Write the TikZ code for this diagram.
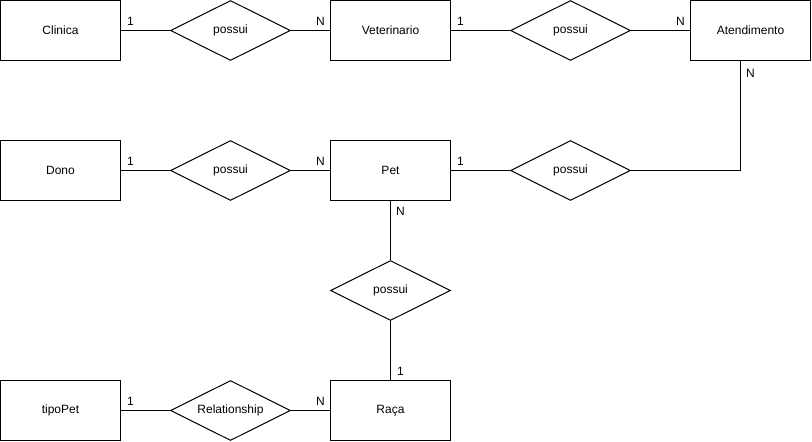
\documentclass[tikz,border=0pt]{standalone}
\usepackage{fontspec}
\setmainfont{Liberation Sans}
\usetikzlibrary{shapes.geometric}
\begin{document}
\begin{tikzpicture}[x=1pt,y=-1pt,
  every node/.style={font=\fontsize{12}{14}\selectfont},
  entity/.style={draw,line width=1pt,minimum width=120pt,minimum height=60pt,inner sep=0pt},
  rel/.style={draw,line width=1pt,diamond,aspect=2,minimum width=120pt,minimum height=60pt,inner sep=0pt},
  link/.style={line width=1pt},
  card/.style={anchor=base west,inner sep=0pt}]
\useasboundingbox (0,0) rectangle (812,442);
% entities
\node[entity] (clinica) at (60.5,30.5) {Clinica};
\node[entity] (vet) at (390.5,30.5) {Veterinario};
\node[entity] (aten) at (750.5,30.5) {Atendimento};
\node[entity] (dono) at (60.5,170.5) {Dono};
\node[entity] (pet) at (390.5,170.5) {Pet};
\node[entity] (tipo) at (60.5,410.5) {tipoPet};
\node[entity] (raca) at (390.5,410.5) {Raça};
% relationships
\node[rel] (r1) at (230.5,30.5) {possui};
\node[rel] (r2) at (570.5,30.5) {possui};
\node[rel] (r3) at (230.5,170.5) {possui};
\node[rel] (r4) at (570.5,170.5) {possui};
\node[rel] (r5) at (390.5,290.5) {possui};
\node[rel] (r6) at (230.5,410.5) {Relationship};
% connectors
\draw[link] (clinica.east) -- (r1.west);
\draw[link] (r1.east) -- (vet.west);
\draw[link] (vet.east) -- (r2.west);
\draw[link] (r2.east) -- (aten.west);
\draw[link] (dono.east) -- (r3.west);
\draw[link] (r3.east) -- (pet.west);
\draw[link] (pet.east) -- (r4.west);
\draw[link] (r4.east) -| ([xshift=-10pt]aten.south);
\draw[link] (pet.south) -- (r5.north);
\draw[link] (r5.south) -- (raca.north);
\draw[link] (tipo.east) -- (r6.west);
\draw[link] (r6.east) -- (raca.west);
% cardinalities
\node[card] (c1) at (127,25) {1};
\node[card] (c2) at (316,25) {N};
\node[card] (c3) at (457,25) {1};
\node[card] (c4) at (676,25) {N};
\node[card] (c5) at (746,77) {N};
\node[card] (c6) at (127,165) {1};
\node[card] (c7) at (316,165) {N};
\node[card] (c8) at (457,165) {1};
\node[card] (c9) at (396,215) {N};
\node[card] (c10) at (397,375) {1};
\node[card] (c11) at (127,405) {1};
\node[card] (c12) at (316,405) {N};
\end{tikzpicture}
\end{document}
